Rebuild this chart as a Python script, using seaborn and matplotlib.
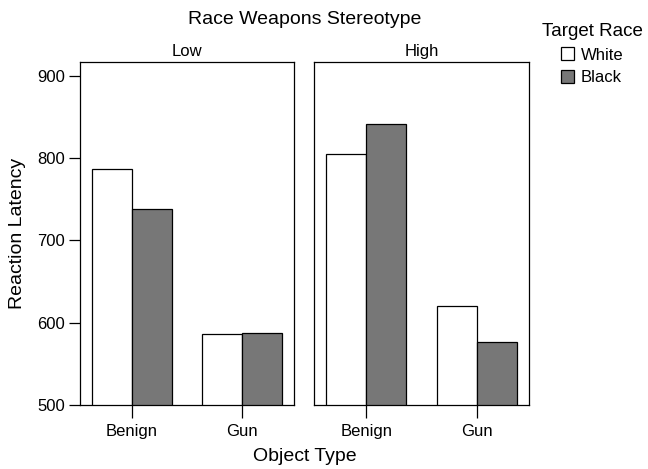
import matplotlib
matplotlib.use("Agg")
import matplotlib.pyplot as plt
import seaborn as sns
import pandas as pd

# ---- data ----
stereotype_levels = ["Low", "High"]
object_types = ["Benign", "Gun"]
target_races = ["White", "Black"]
low_white = [787, 586]
low_black = [738, 587]
high_white = [805, 620]
high_black = [841, 577]
y_ticks = [500, 600, 700, 800, 900]
race_colors = {"White": "white", "Black": "#777777"}

values = {
    ("Low", "White"): low_white,
    ("Low", "Black"): low_black,
    ("High", "White"): high_white,
    ("High", "Black"): high_black,
}
rows = []
for level in stereotype_levels:
    for race in target_races:
        for obj, v in zip(object_types, values[(level, race)]):
            rows.append({"Stereotype": level, "Race": race, "Object": obj, "Latency": v})
df = pd.DataFrame(rows)

sns.set_theme(style="ticks")
plt.rcParams['font.family'] = ['Liberation Sans', 'DejaVu Sans']
plt.rcParams['text.color'] = 'black'
plt.rcParams['axes.labelcolor'] = 'black'
plt.rcParams['xtick.color'] = 'black'
plt.rcParams['ytick.color'] = 'black'

W, H = 648, 469
fig = plt.figure(figsize=(W / 100, H / 100), dpi=100)
top_px, bot_px = 61.7, 405
panels = [(80, 294.3), (314.3, 528.7)]
axes = []
for (l, r) in panels:
    ax = fig.add_axes([l / W, 1 - bot_px / H, (r - l) / W, (bot_px - top_px) / H])
    axes.append(ax)

for ax, level in zip(axes, stereotype_levels):
    sub = df[df["Stereotype"] == level]
    sns.barplot(data=sub, x="Object", y="Latency", hue="Race",
                order=object_types, hue_order=target_races,
                palette=race_colors, edgecolor="black", linewidth=0.9,
                width=0.727, errorbar=None, ax=ax)
    ax.set_ylim(500, 917)
    ax.set_xlim(-0.473, 1.473)
    ax.set_xlabel("")
    ax.set_ylabel("")
    ax.set_title(level, fontsize=12, pad=4, color="black")
    for s in ax.spines.values():
        s.set_visible(True)
        s.set_color("black")
        s.set_linewidth(0.9)
    ax.tick_params(axis="x", direction="out", length=9, width=0.9, labelsize=12,
                   color="black", labelcolor="black", pad=5, bottom=True)
    ax.set_yticks(y_ticks)
    ax.tick_params(axis="y", direction="out", length=8, width=0.9, labelsize=12,
                   color="black", labelcolor="black", pad=3, left=True)

axes[1].tick_params(axis="y", left=False, labelleft=False)

handles, labels = axes[0].get_legend_handles_labels()
for ax in axes:
    if ax.get_legend() is not None:
        ax.get_legend().remove()

leg = fig.legend(handles, labels, title="Target Race", loc="upper center",
                 bbox_to_anchor=(592 / W, 1 - 23 / H), frameon=False,
                 fontsize=12, title_fontsize=13.5, handlelength=0.8, handleheight=0.8,
                 handletextpad=0.4, labelspacing=0.45, borderpad=0, borderaxespad=0)
leg.get_title().set_color("black")
for t in leg.get_texts():
    t.set_color("black")

fig.text(304.5 / W, 1 - 20 / H, "Race Weapons Stereotype", ha="center", va="center",
         fontsize=14, color="black")
fig.text(18 / W, 1 - 233 / H, "Reaction Latency", ha="center", va="center", rotation=90,
         fontsize=14, color="black")
fig.text(304.5 / W, 1 - 456 / H, "Object Type", ha="center", va="center", fontsize=14,
         color="black")

fig.savefig("out.png", dpi=100)
